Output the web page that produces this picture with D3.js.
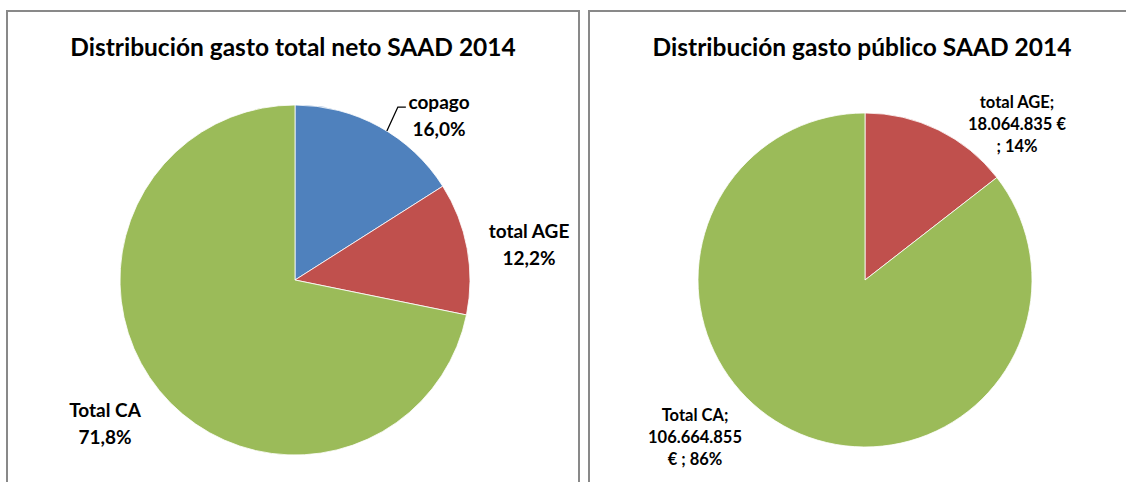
<!DOCTYPE html>
<html>
<head>
<meta charset="utf-8">
<script src="https://cdn.jsdelivr.net/npm/d3@7"></script>
<style>
  html, body { margin: 0; padding: 0; background: #ffffff; }
  svg { display: block; }
  text { font-family: "Lato", "Open Sans", sans-serif; font-weight: bold; fill: #000; }
</style>
</head>
<body>
<svg id="chart" width="1126" height="482"></svg>
<script>
// Gasto total neto SAAD 2014 (porcentajes)
const netCategories = ["copago", "total AGE", "Total CA"];
const netShares = [16.0, 12.2, 71.8];

// Gasto público SAAD 2014 (euros)
const publicCategories = ["total AGE", "Total CA"];
const publicValues = [18064835, 106664855];

const titles = ["Distribución gasto total neto SAAD 2014", "Distribución gasto público SAAD 2014"];

const colorOf = d3.scaleOrdinal()
  .domain(["copago", "total AGE", "Total CA"])
  .range(["#4F81BD", "#C0504D", "#9BBB59"]);

const svg = d3.select("#chart");

// chart frames
const frames = [
  { x: 7, y: 11, w: 572, h: 490 },
  { x: 589, y: 11, w: 560, h: 490 }
];
svg.selectAll("rect.frame").data(frames).join("rect")
  .attr("class", "frame")
  .attr("x", d => d.x).attr("y", d => d.y)
  .attr("width", d => d.w).attr("height", d => d.h)
  .attr("fill", "#fff").attr("stroke", "#898989").attr("stroke-width", 2);

svg.selectAll("text.title").data(titles).join("text")
  .attr("class", "title")
  .attr("x", (d, i) => i === 0 ? 293 : 862)
  .attr("y", 56)
  .attr("text-anchor", "middle")
  .attr("font-size", 24.5)
  .text(d => d);

const pie = d3.pie().sort(null).value(d => d.value);

function drawPie(cx, cy, r, data) {
  const arc = d3.arc().innerRadius(0).outerRadius(r);
  const g = svg.append("g").attr("transform", `translate(${cx},${cy})`);
  const arcs = pie(data);
  g.selectAll("path").data(arcs).join("path")
    .attr("d", arc)
    .attr("fill", d => colorOf(d.data.name))
    .attr("stroke", "#fff")
    .attr("stroke-width", 0.8);
  return arcs;
}

// ---- left pie ----
const netData = netCategories.map((name, i) => ({ name, value: netShares[i] }));
const leftCx = 295, leftCy = 280, leftR = 175;
const leftArcs = drawPie(leftCx, leftCy, leftR, netData);
const fmtPct1 = v => d3.format(".1f")(v).replace(".", ",") + "%";
const leftLabelPos = {
  "copago": [439, 109],
  "total AGE": [529, 238],
  "Total CA": [105, 417]
};
leftArcs.forEach(a => {
  const [x, y] = leftLabelPos[a.data.name];
  const t = svg.append("text").attr("text-anchor", "middle").attr("font-size", 19);
  t.append("tspan").attr("x", x).attr("y", y).text(a.data.name);
  t.append("tspan").attr("x", x).attr("y", y + 27).text(fmtPct1(a.data.value));
});
// leader line for copago
{
  const a = leftArcs[0];
  const mid = (a.startAngle + a.endAngle) / 2 + 0.05;
  const px = leftCx + leftR * Math.sin(mid), py = leftCy - leftR * Math.cos(mid);
  svg.append("path")
    .attr("d", `M${px},${py} L${px + 11},${py - 24} L${px + 19},${py - 24}`)
    .attr("fill", "none").attr("stroke", "#000").attr("stroke-width", 1.3);
}

// ---- right pie ----
const pubData = publicCategories.map((name, i) => ({ name, value: publicValues[i] }));
const rightArcs = drawPie(865, 280, 167, pubData);
const total = d3.sum(publicValues);
const fmtEuro = v => d3.format(",")(v).replace(/,/g, ".");
const rightLabels = {
  "total AGE": { x: 1017, y: 108, lines: a => [a.data.name + ";", fmtEuro(a.data.value) + " €", "; " + Math.round(a.data.value / total * 100) + "%"] },
  "Total CA": { x: 695, y: 421, lines: a => [a.data.name + ";", fmtEuro(a.data.value), "€ ; " + Math.round(a.data.value / total * 100) + "%"] }
};
rightArcs.forEach(a => {
  const spec = rightLabels[a.data.name];
  const t = svg.append("text").attr("text-anchor", "middle").attr("font-size", 16.5);
  spec.lines(a).forEach((line, i) => {
    t.append("tspan").attr("x", spec.x).attr("y", spec.y + i * 22).text(line);
  });
});
</script>
</body>
</html>
